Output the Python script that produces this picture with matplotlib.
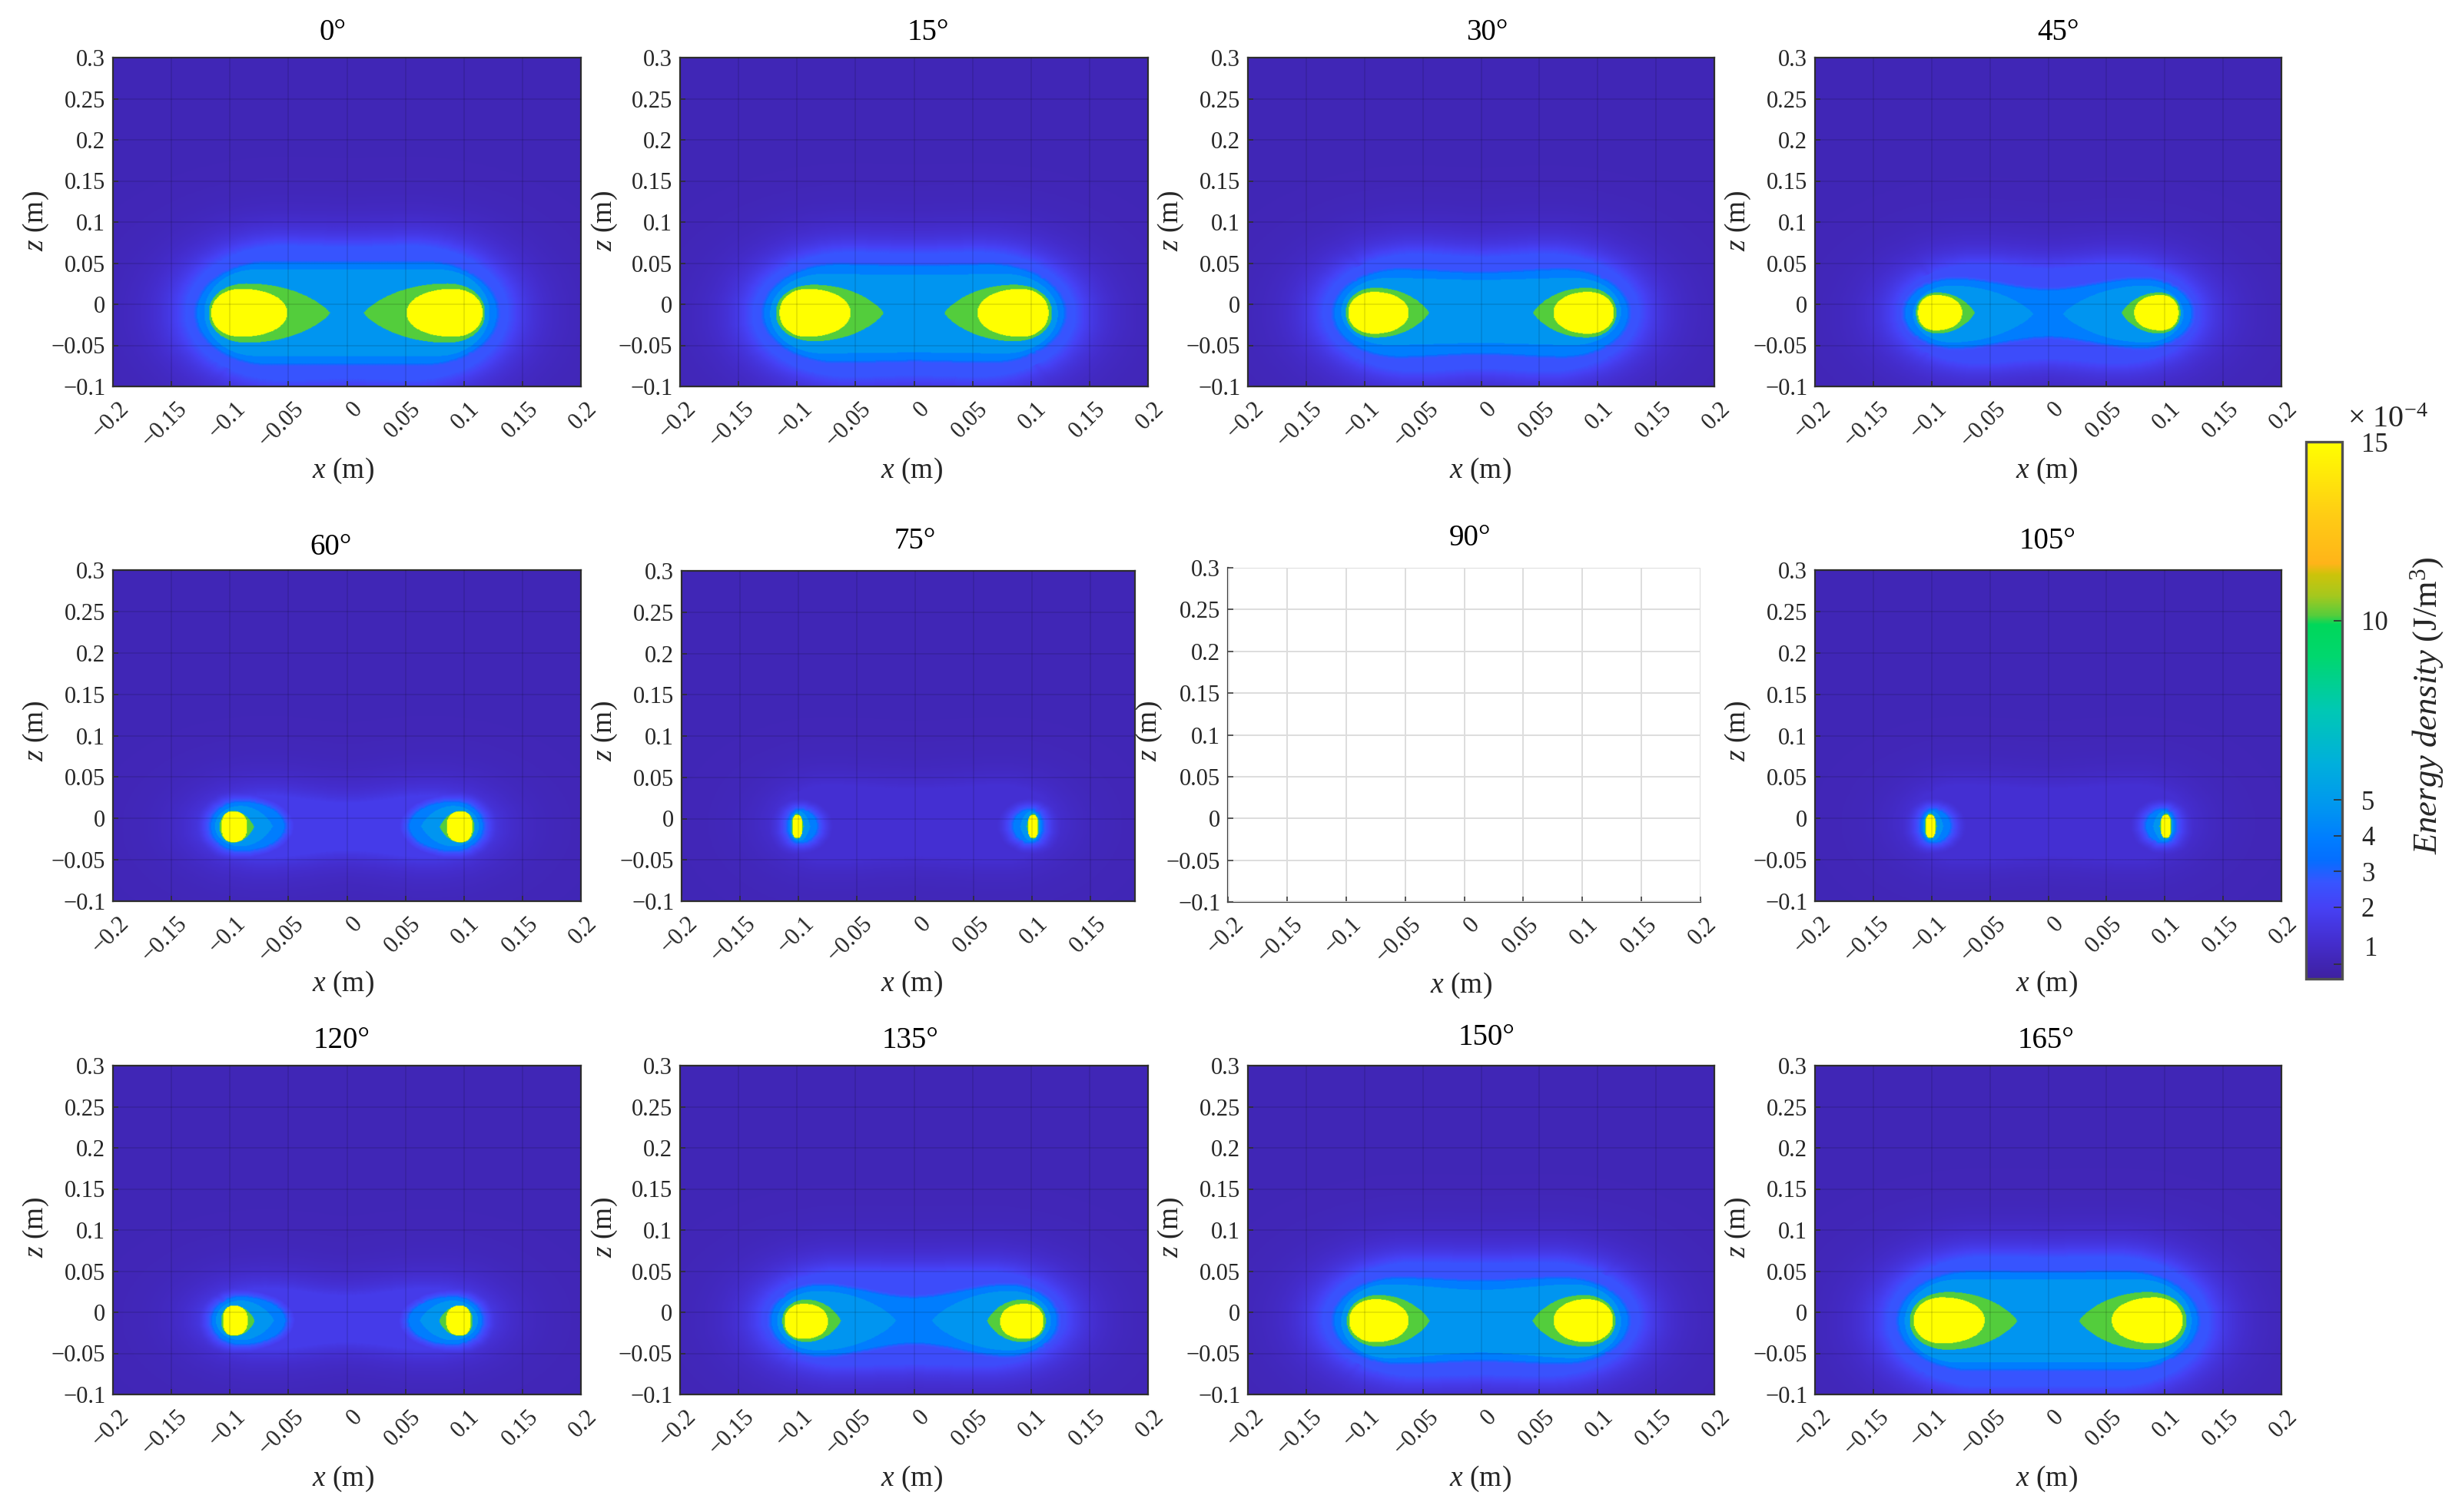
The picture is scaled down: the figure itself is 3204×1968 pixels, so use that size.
import numpy as np
import matplotlib
matplotlib.use("Agg")
import matplotlib.pyplot as plt
from matplotlib.colors import LinearSegmentedColormap, Normalize
from matplotlib.cm import ScalarMappable
from matplotlib.transforms import ScaledTranslation

plt.rcParams['font.family'] = ['Liberation Serif', 'DejaVu Serif']
plt.rcParams['mathtext.fontset'] = 'custom'
plt.rcParams['mathtext.rm'] = 'Liberation Serif'
plt.rcParams['mathtext.it'] = 'Liberation Serif:italic'
plt.rcParams['mathtext.default'] = 'regular'

W, H = 3204, 1968
DPI = 200
TEXT = '#262626'

# ---- values (metres, magnitudes on each side of x = 0) ----
angles = [0, 15, 30, 45, 60, 75, 105, 120, 135, 150, 165]
yellow_outer = [.116, .115, .114, .1117, .1073, .105, .105, .106, .1108, .1132, .1154]
yellow_inner = [.051, .0543, .062, .0738, .0852, .0966, .0966, .0848, .0736, .0622, .0545]
yellow_peak = [.0907, .0915, .0918, .0964, .0975, .101, .101, .0968, .0944, .0907, .0913]
yellow_top = [.0187, .0187, .015, .0112, .0084, .0042, .0042, .0081, .0103, .0159, .0181]
yellow_bottom = [-.0396, -.0396, -.0358, -.0318, -.0288, -.0235, -.0235, -.0283, -.0324, -.0364, -.038]
yellow_blunt = [2.1, 2.1, 2.1, 2.2, 2.4, 3.0, 3.0, 2.4, 2.2, 2.1, 2.1]
green_outer = [.118, .118, .116, .1134, .1088, .106, .106, .1075, .1126, .1152, .1187]
green_tip = [.0145, .026, .0447, .0631, .0795, .0955, .0955, .0788, .0626, .0442, .0267]
green_peak = [.086, .086, .0907, .0953, .0975, .101, .101, .0968, .092, .088, .086]
green_top = [.0252, .0237, .02, .0143, .0087, .0055, .0055, .0081, .0153, .0209, .0246]
green_bottom = [-.0467, -.0449, -.0405, -.0355, -.0294, -.0245, -.0245, -.029, -.0361, -.0417, -.0455]
cyan_outer = [.122, .123, .12, .116, .1128, .1075, .1075, .112, .117, .12, .123]
cyan_tip = [0, 0, 0, .013, .0635, .0899, .0899, .0624, .0155, 0, 0]
cyan_peak = [.078, .078, .08, .083, .0909, .099, .099, .0909, .0823, .08, .078]
cyan_top = [.0424, .0368, .032, .0227, .0149, .0087, .0087, .0143, .0259, .034, .0399]
cyan_bottom = [-.0629, -.0598, -.0495, -.0464, -.034, -.0273, -.0273, -.034, -.0464, -.0558, -.0611]
cyan_centre = [.0526, .0472, .0385, 0, 0, 0, 0, 0, 0, .0382, .0505]
band_outer = [.128, .128, .1257, .1226, .116, .109, .109, .1154, .1218, .1257, .1279]
band_tip = [0, 0, 0, 0, .0537, .084, .084, .053, 0, 0, 0]
band_peak = [.065, .065, .07, .08, .0909, .099, .099, .0909, .08, .07, .065]
band_top = [.0508, .0477, .0414, .03, .0195, .0106, .0106, .0184, .0324, .0408, .0486]
band_bottom = [-.0723, -.0692, -.0629, -.052, -.0387, -.0292, -.0292, -.0386, -.052, -.0611, -.0692]
band_centre = [.0615, .0568, .0483, .0277, 0, 0, 0, 0, .0269, .0474, .0585]
band_decay = [.012, .012, .012, .011, .01, .009, .009, .01, .011, .012, .012]
halo_outer = [.138, .138, .136, .13, .122, .12, .12, .122, .13, .136, .138]
halo_peak = [.055, .055, .055, .06, .07, .075, .075, .07, .06, .055, .055]
halo_top = [.071, .063, .0617, .049, .028, .04, .04, .03, .05, .0611, .0673]
halo_bottom = [-.092, -.088, -.082, -.072, -.048, -.05, -.05, -.046, -.065, -.0776, -.09]
halo_centre = [.08, .074, .068, .055, .029, .04, .04, .0288, .056, .068, .078]
halo_level = [2.7, 2.7, 2.6, 2.4, 1.7, 1.15, 1.15, 1.7, 2.4, 2.6, 2.7]
base_level = 0.5
yellow_level, green_level, cyan_level, band_level = 15.0, 10.15, 4.8, 3.9

titles = ['0°', '15°', '30°', '45°', '60°', '75°', '90°', '105°', '120°', '135°', '150°', '165°']
x_ticks = [-.2, -.15, -.1, -.05, 0, .05, .1, .15, .2]
x_tick_labels = ['−0.2', '−0.15', '−0.1', '−0.05', '0', '0.05', '0.1', '0.15', '0.2']
z_ticks = [-.1, -.05, 0, .05, .1, .15, .2, .25, .3]
z_tick_labels = ['−0.1', '−0.05', '0', '0.05', '0.1', '0.15', '0.2', '0.25', '0.3']
cbar_levels = [0.0, 1.0, 2.0, 2.7, 3.3, 3.9, 4.8, 6.0, 7.5, 9.0, 9.9, 10.15, 10.7, 11.3, 11.6, 13.0, 15.0]
cbar_colors = ['#3e20a0', '#442dcd', '#4641f5', '#3755ff', '#056eff', '#007dff', '#0096f0', '#00afdc',
               '#00c8b4', '#00d76e', '#00d75a', '#55cd3c', '#a5c81e', '#cdc30a', '#ffb419', '#ffcd14', '#ffff00']
cbar_ticks = [0.4, 2, 3, 4, 5, 10, 15]
cbar_tick_labels = ['', '2', '3', '4', '5', '10', '15']

# ---- layout in reference pixels: left, right, top, bottom ----
boxes = [(147, 756, 75, 503), (885, 1494, 75, 503), (1624, 2231, 75, 503), (2362, 2969, 75, 503),
         (147, 756, 742, 1173), (887, 1477, 743, 1173), (1598, 2213, 739, 1174), (2362, 2969, 742, 1173),
         (147, 756, 1387, 1815), (885, 1494, 1387, 1815), (1624, 2231, 1387, 1815), (2362, 2969, 1387, 1815)]
title_xy = [(433, 43), (1208, 43), (1935, 43), (2679, 43), (431, 713), (1191, 705), (1913, 701), (2665, 705),
            (445, 1355), (1185, 1355), (1935, 1351), (2663, 1355)]
xlabel_xy = [(447, 613), (1187, 613), (1927, 613), (2664, 613), (447, 1281), (1187, 1281), (1902, 1283), (2664, 1281),
             (447, 1925), (1187, 1925), (1927, 1925), (2664, 1925)]
zlabel_xy = [(47, 288), (787, 288), (1524, 288), (2262, 288), (47, 952), (787, 952), (1496, 952), (2262, 952),
             (47, 1598), (787, 1598), (1524, 1598), (2262, 1598)]

cmap = LinearSegmentedColormap.from_list('energy', [(v / 15.0, c) for v, c in zip(cbar_levels, cbar_colors)], N=1024)
norm = Normalize(0, 15)

STEP = 0.0008
xs = np.arange(-0.2 + STEP / 2, 0.2, STEP)
zs = np.arange(-0.1 + STEP / 2, 0.3, STEP)
X, Z = np.meshgrid(xs, zs)


def region(outer, peak, tip, top, bottom, centre=0.0, power=0.8, blunt=2.0):
    ax = np.abs(X)
    half = (top - bottom) / 2
    mid = (top + bottom) / 2
    v = np.clip((ax - peak) / (outer - peak), 0, 1)
    out = half * (1 - v ** blunt) ** (1 / blunt)
    if centre > 0:
        t = np.clip(ax / peak, 0, 1)
        inn = centre + (half - centre) * t * t * (3 - 2 * t)
    else:
        u = np.clip((peak - ax) / (peak - tip), 0, 1)
        inn = half * (1 - u ** blunt) ** power
    h = np.where(ax >= peak, out, inn)
    return np.abs(Z - mid) < h


def distance(mask):
    inner = mask.copy()
    inner[1:-1, 1:-1] = (mask[1:-1, 1:-1] & mask[:-2, 1:-1] & mask[2:, 1:-1]
                         & mask[1:-1, :-2] & mask[1:-1, 2:])
    edge = mask & ~inner
    px, pz = X[edge][::3], Z[edge][::3]
    best = np.full(X.shape, np.inf, dtype=np.float32)
    Xf, Zf = X.astype(np.float32), Z.astype(np.float32)
    for a, b in zip(px, pz):
        best = np.minimum(best, (Xf - a) ** 2 + (Zf - b) ** 2)
    return np.sqrt(best)


def field(i):
    band = region(band_outer[i], band_peak[i], band_tip[i], band_top[i], band_bottom[i], band_centre[i], 0.5)
    halo = region(halo_outer[i], halo_peak[i], 0, halo_top[i], halo_bottom[i], halo_centre[i])
    e1 = base_level + (band_level - 0.4 - base_level) * np.exp(-distance(band) / band_decay[i])
    e2 = base_level + (halo_level[i] - base_level) * np.exp(-distance(halo) / 0.021)
    e2 = np.where(halo, halo_level[i], e2)
    e = np.maximum(e1, e2)
    e = np.where(band, band_level, e)
    e = np.where(region(cyan_outer[i], cyan_peak[i], cyan_tip[i], cyan_top[i], cyan_bottom[i], cyan_centre[i]), cyan_level, e)
    e = np.where(region(green_outer[i], green_peak[i], green_tip[i], green_top[i], green_bottom[i], blunt=2.1), green_level, e)
    b = yellow_blunt[i]
    e = np.where(region(yellow_outer[i], yellow_peak[i], yellow_inner[i], yellow_top[i], yellow_bottom[i], 0, 1 / b, b), yellow_level, e)
    return e


fig = plt.figure(figsize=(W / DPI, H / DPI), dpi=DPI, facecolor='white')


def fx(p):
    return p / W


def fy(p):
    return 1 - p / H


shift = ScaledTranslation(16 / DPI, 0, fig.dpi_scale_trans)
for n, title in enumerate(titles):
    l, r, t, b = boxes[n]
    ax = fig.add_axes([fx(l), fy(b), (r - l) / W, (b - t) / H])
    angle = int(title[:-1])
    xmax = 0.2 + (r - l - 608) / 1522 if n == 5 else 0.2
    if angle in angles:
        im = ax.imshow(field(angles.index(angle)), origin='lower', extent=(-.2, .2, -.1, .3), cmap=cmap, norm=norm,
                       aspect='auto', interpolation='bilinear', zorder=1)
        ax.grid(True, color='black', alpha=0.12, lw=0.6, zorder=3)
        edge = '#303030'
    else:
        ax.grid(True, color='#dddddd', lw=0.7, zorder=3)
        ax.spines['top'].set_visible(False)
        ax.spines['right'].set_visible(False)
        edge = '#404040'
    ax.set_axisbelow(False)
    ax.set_xlim(-.2, xmax)
    ax.set_ylim(-.1, .3)
    keep = [k for k, v in enumerate(x_ticks) if v <= xmax + 1e-9]
    ax.set_xticks([x_ticks[k] for k in keep])
    ax.set_xticklabels([x_tick_labels[k] for k in keep], rotation=45, ha='right', va='center',
                       rotation_mode='anchor', fontsize=11, color=TEXT)
    ax.set_yticks(z_ticks)
    ax.set_yticklabels(z_tick_labels, fontsize=11, color=TEXT)
    ax.tick_params(axis='both', direction='in', length=2.4, width=0.6, color=edge, pad=3.5)
    ax.tick_params(axis='x', pad=9)
    for lab in ax.get_xticklabels():
        lab.set_transform(lab.get_transform() + shift)
    for s in ax.spines.values():
        s.set_linewidth(0.8)
        s.set_color(edge)
    tx, ty = title_xy[n]
    fig.text(fx(tx), fy(ty), title, ha='center', va='center', fontsize=14, color='black')
    tx, ty = xlabel_xy[n]
    fig.text(fx(tx), fy(ty), r'$\mathit{x}$ (m)', ha='center', va='center', fontsize=13.5, color=TEXT)
    tx, ty = zlabel_xy[n]
    fig.text(fx(tx), fy(ty), r'$\mathit{z}$ (m)', ha='center', va='center', rotation=90, fontsize=13.5,
             color=TEXT)

cax = fig.add_axes([fx(3001), fy(1274), 47 / W, 699 / H])
cb = fig.colorbar(ScalarMappable(norm=norm, cmap=cmap), cax=cax)
cb.set_ticks(cbar_ticks)
cb.set_ticklabels(cbar_tick_labels)
cax.tick_params(axis='y', direction='in', length=4, width=0.6, color='#303030', labelsize=12.5, labelcolor=TEXT, pad=9)
cb.outline.set_edgecolor('#505050')
cb.outline.set_linewidth(1.2)
fig.text(fx(3086), fy(1235), '1', ha='center', va='center', fontsize=12.5, color=TEXT)
fig.text(fx(3055), fy(546), r'$\times$ 10$^{-4}$', ha='left', va='center', fontsize=14.5, color=TEXT)
fig.text(fx(3159), fy(918), r'$\mathit{Energy\ density}$ (J/m$^{3}$)', ha='center', va='center', rotation=90,
         fontsize=16, color=TEXT)

fig.savefig('out.png', dpi=DPI, facecolor='white')
